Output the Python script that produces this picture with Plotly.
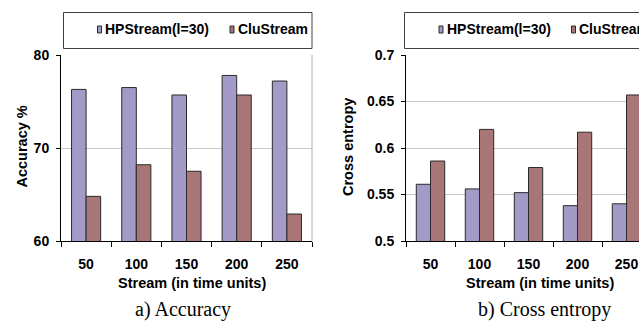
import plotly.graph_objects as go

categories = ["50", "100", "150", "200", "250"]
acc_hp = [76.3, 76.5, 75.7, 77.8, 77.2]
acc_clu = [64.8, 68.2, 67.5, 75.7, 62.9]
ce_hp = [0.561, 0.556, 0.552, 0.538, 0.540]
ce_clu = [0.586, 0.620, 0.579, 0.617, 0.657]
series_names = ["HPStream(l=30)", "CluStream"]
colors = ["#A49AC8", "#A87676"]
edge = "#2a2a2a"

W, H = 639, 322
def px(x):
    return x / W
def py(y):
    return 1 - y / H

fig = go.Figure()
for vals, name, col, xa, ya in [
    (acc_hp, series_names[0], colors[0], "x", "y"),
    (acc_clu, series_names[1], colors[1], "x", "y"),
    (ce_hp, series_names[0], colors[0], "x2", "y2"),
    (ce_clu, series_names[1], colors[1], "x2", "y2"),
]:
    fig.add_trace(go.Bar(x=categories, y=vals, name=name, marker_color=col,
                         marker_line_color=edge, marker_line_width=1,
                         xaxis=xa, yaxis=ya, showlegend=False))

tick_font = dict(family="Arial, Liberation Sans", size=14, color="black", weight="bold")
common_x = dict(type="category", tickson="boundaries", ticks="outside", ticklen=5,
                tickcolor="black", showline=True, linecolor="black", linewidth=1,
                tickfont=tick_font, showgrid=False, zeroline=False, automargin=False,
                ticklabelstandoff=10)
common_y = dict(ticks="outside", ticklen=4, tickcolor="black", showline=True,
                linecolor="black", linewidth=1, tickfont=tick_font, automargin=False,
                showgrid=True, gridcolor="#c8c8c8", gridwidth=1, zeroline=False,
                ticklabelstandoff=4)

fig.update_layout(
    width=W, height=H, margin=dict(l=0, r=0, t=0, b=0, autoexpand=False),
    paper_bgcolor="white", plot_bgcolor="white",
    barmode="group", bargap=0.42, bargroupgap=0,
    xaxis=dict(domain=[px(61), px(312)], range=[-0.5, 4.5], anchor="y", **common_x),
    yaxis=dict(domain=[py(241), py(55)], range=[60, 80], dtick=10, anchor="x", **common_y),
    xaxis2=dict(domain=[px(406), 1], range=[-0.5, 4.255], anchor="y2", **common_x),
    yaxis2=dict(domain=[py(241), py(55)], range=[0.5, 0.7], dtick=0.05, anchor="x2", **common_y),
)

shapes = []
# right border of left plot
shapes.append(dict(type="line", xref="x domain", yref="y domain", x0=1, x1=1, y0=0, y1=1,
                   line=dict(color="#b0b0b0", width=1)))
# legend boxes
shapes.append(dict(type="rect", xref="paper", yref="paper", x0=px(63.5), x1=px(312), y0=py(48.5), y1=py(12.5),
                   line=dict(color="#404040", width=1), fillcolor="white"))
shapes.append(dict(type="rect", xref="paper", yref="paper", x0=px(404.5), x1=px(660), y0=py(48.5), y1=py(12.5),
                   line=dict(color="#404040", width=1), fillcolor="white"))
annotations = []
legend_items = [(97.5, 0), (230, 1), (439, 0), (571.5, 1)]
for lx, idx in legend_items:
    shapes.append(dict(type="rect", xref="paper", yref="paper", x0=px(lx), x1=px(lx + 4), y0=py(33), y1=py(26),
                       line=dict(color=edge, width=1), fillcolor=colors[idx]))
    annotations.append(dict(text=series_names[idx], xref="paper", yref="paper", x=px(lx + 5.5), y=py(29.5),
                            xanchor="left", yanchor="middle", showarrow=False, font=tick_font))

title_font = dict(family="Arial, Liberation Sans", size=14.5, color="black", weight="bold")
annotations += [
    dict(text="Accuracy %", xref="paper", yref="paper", x=px(21.5), y=py(147), textangle=-90,
         showarrow=False, font=title_font, xanchor="center", yanchor="middle"),
    dict(text="Cross entropy", xref="paper", yref="paper", x=px(348), y=py(147), textangle=-90,
         showarrow=False, font=title_font, xanchor="center", yanchor="middle"),
    dict(text="Stream (in time units)", xref="paper", yref="paper", x=px(192), y=py(283),
         showarrow=False, font=title_font, xanchor="center", yanchor="middle"),
    dict(text="Stream (in time units)", xref="paper", yref="paper", x=px(540), y=py(283),
         showarrow=False, font=title_font, xanchor="center", yanchor="middle"),
]
cap_font = dict(family="Liberation Serif, Times New Roman", size=20, color="black")
annotations += [
    dict(text="a) Accuracy", xref="paper", yref="paper", x=px(182.5), y=py(309),
         showarrow=False, font=cap_font, xanchor="center", yanchor="middle"),
    dict(text="b) Cross entropy", xref="paper", yref="paper", x=px(544), y=py(309),
         showarrow=False, font=cap_font, xanchor="center", yanchor="middle"),
]
fig.update_layout(shapes=shapes, annotations=annotations)
fig.write_html("out.html")
